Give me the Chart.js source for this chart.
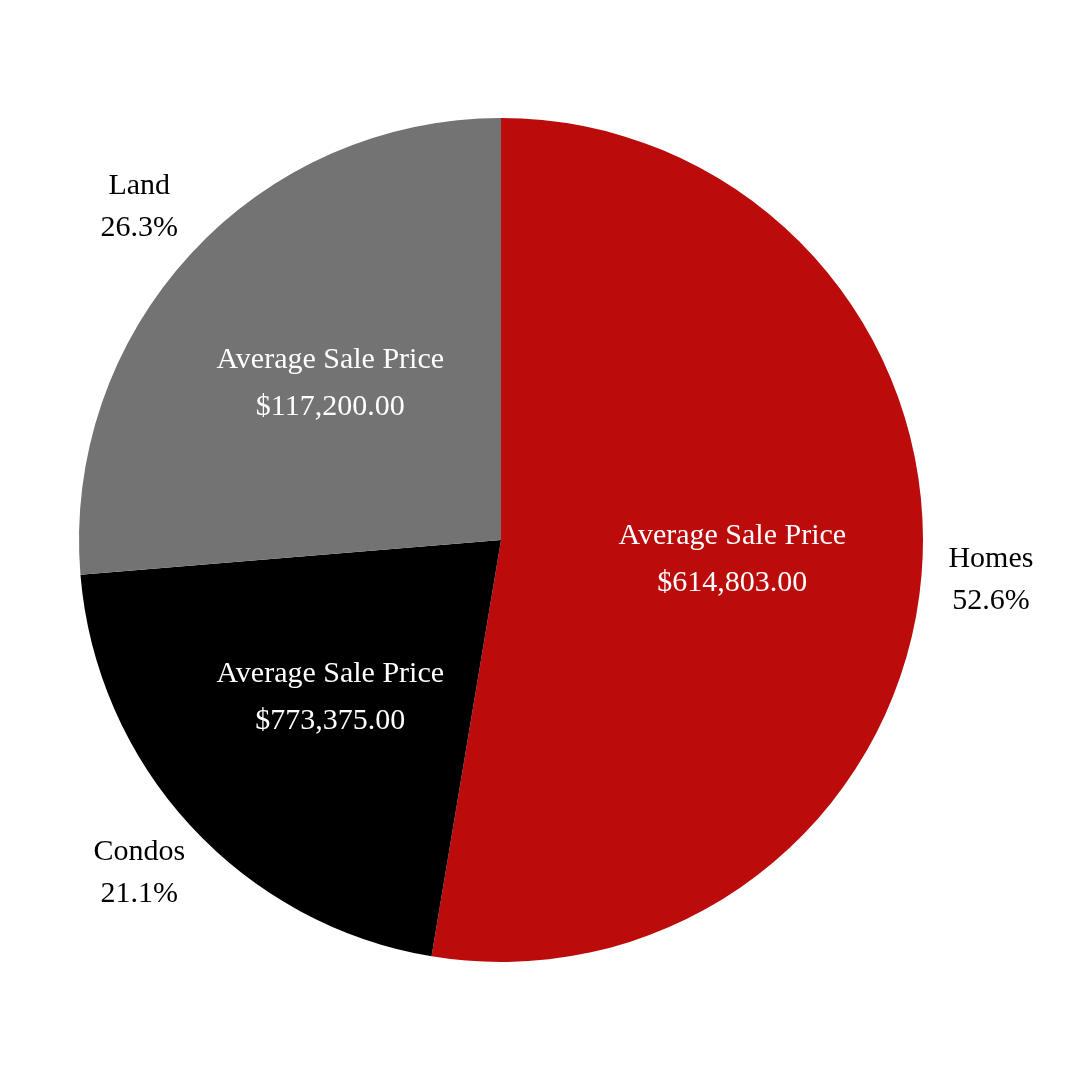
<!DOCTYPE html>
<html>
<head>
<meta charset="utf-8">
<script src="https://cdn.jsdelivr.net/npm/chart.js@4/dist/chart.umd.min.js"></script>
<style>
  html, body { margin: 0; padding: 0; background: #fff; }
  #wrap { width: 1080px; height: 1080px; }
</style>
</head>
<body>
<div id="wrap"><canvas id="pie"></canvas></div>
<script>
// sales counts per property type (10/19, 4/19, 5/19)
const categories = ['Homes', 'Condos', 'Land'];
const counts = [10, 4, 5];
const avgPrices = ['$614,803.00', '$773,375.00', '$117,200.00'];
const colors = ['#bb0b0b', '#000000', '#737373'];

const FONT = '"Liberation Serif", "DejaVu Serif", serif';

// draws the white price text inside and name/percent outside each slice
const sliceLabels = {
  id: 'sliceLabels',
  afterDatasetsDraw(chart) {
    let ctx = chart.ctx;
    let meta = chart.getDatasetMeta(0);
    let total = counts.reduce((a, b) => a + b, 0);
    ctx.save();
    ctx.textAlign = 'center';
    ctx.textBaseline = 'middle';
    ctx.font = '30px ' + FONT;
    meta.data.forEach((arc, i) => {
      let p = arc.getProps(['x', 'y', 'startAngle', 'endAngle', 'outerRadius'], true);
      let mid = (p.startAngle + p.endAngle) / 2;
      let r = p.outerRadius;
      // inside
      let ix = p.x + Math.cos(mid) * r * 0.55;
      let iy = p.y + Math.sin(mid) * r * 0.55;
      ctx.fillStyle = '#ffffff';
      ctx.fillText('Average Sale Price', ix, iy - 23);
      ctx.fillText(avgPrices[i], ix, iy + 24);
      // outside
      let ox = p.x + Math.cos(mid) * r * 1.165;
      let oy = p.y + Math.sin(mid) * r * 1.165;
      let pct = (counts[i] / total * 100).toFixed(1) + '%';
      ctx.fillStyle = '#000000';
      ctx.fillText(categories[i], ox, oy - 21);
      ctx.fillText(pct, ox, oy + 21);
    });
    ctx.restore();
  }
};

new Chart(document.getElementById('pie'), {
  type: 'pie',
  data: {
    labels: categories,
    datasets: [{
      data: counts,
      backgroundColor: colors,
      borderWidth: 0
    }]
  },
  options: {
    responsive: true,
    maintainAspectRatio: false,
    animation: false,
    layout: {
      padding: { left: 79, right: 157, top: 118, bottom: 118 }
    },
    plugins: {
      legend: { display: false },
      tooltip: { enabled: false }
    }
  },
  plugins: [sliceLabels]
});
</script>
</body>
</html>
